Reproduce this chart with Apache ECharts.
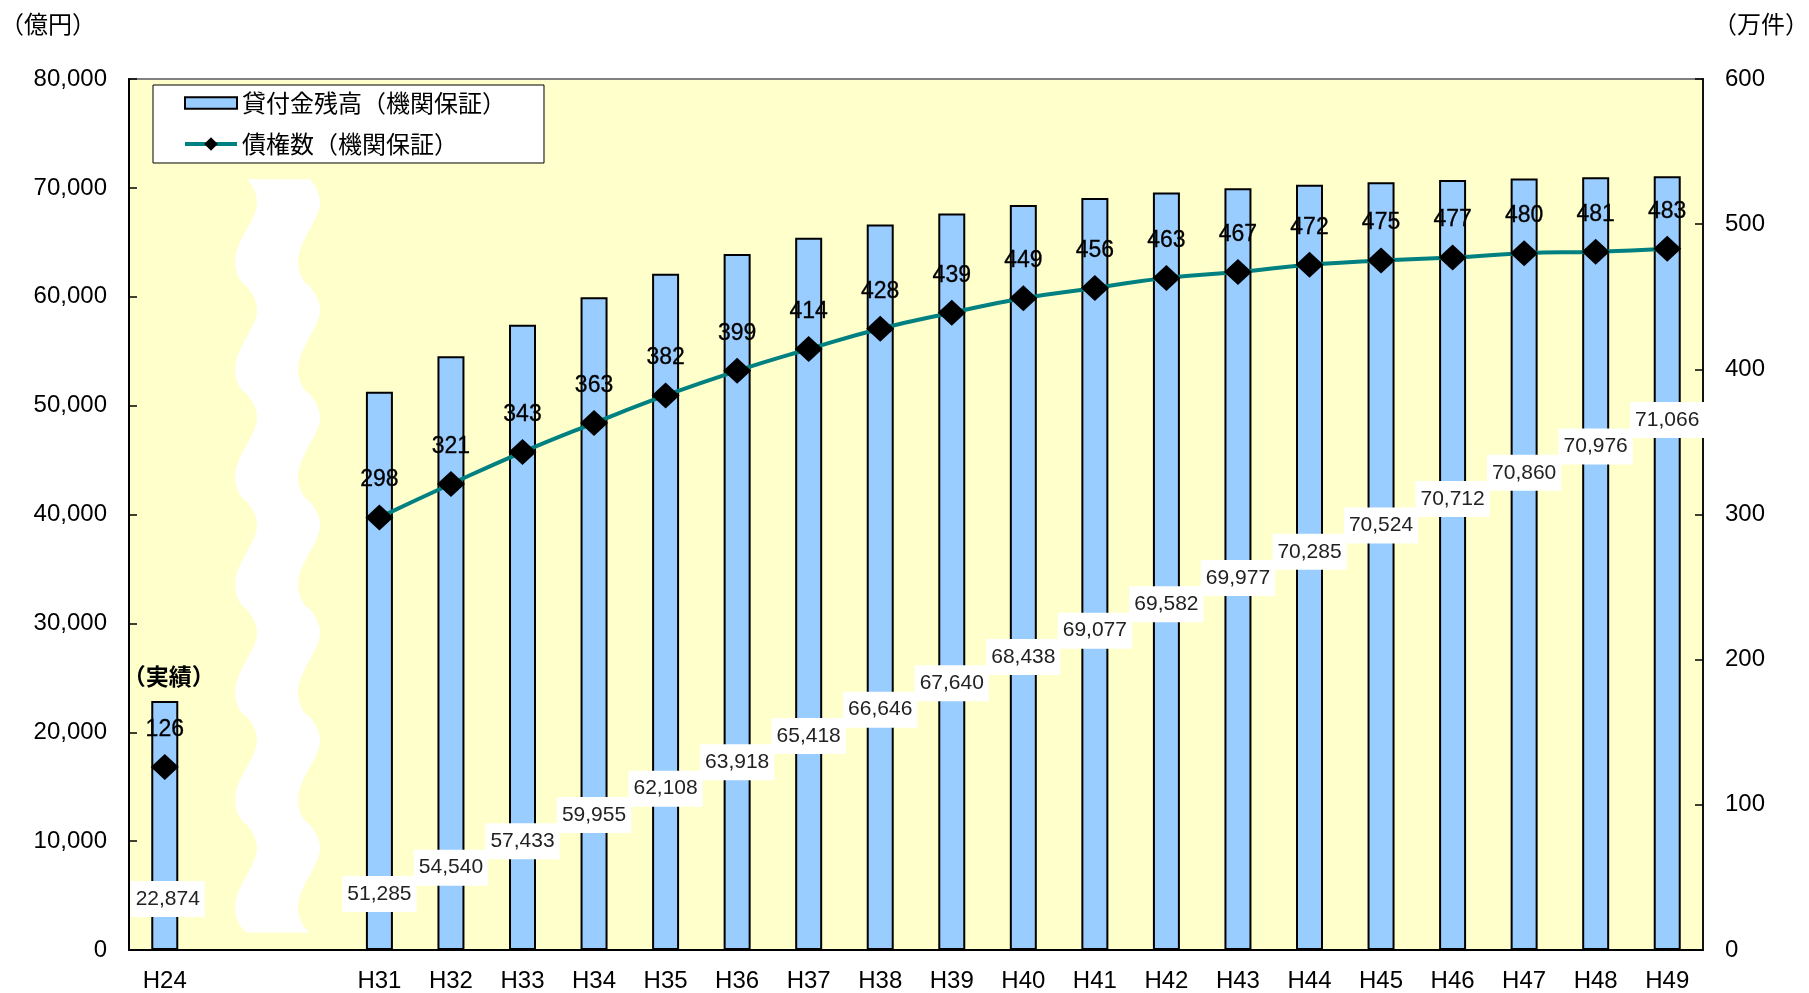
<!DOCTYPE html>
<html>
<head>
<meta charset="utf-8">
<script src="https://cdn.jsdelivr.net/npm/echarts@6/dist/echarts.min.js"></script>
<style>
html,body{margin:0;padding:0;background:#fff;}
#chart{width:1809px;height:993px;}
</style>
</head>
<body>
<div id="chart"></div>
<script>
// ---- data ----
const categories = ['H24', ' ', '  ', 'H31', 'H32', 'H33', 'H34', 'H35', 'H36', 'H37', 'H38', 'H39', 'H40', 'H41', 'H42', 'H43', 'H44', 'H45', 'H46', 'H47', 'H48', 'H49'];
const loanBalance = [22874, null, null, 51285, 54540, 57433, 59955, 62108, 63918, 65418, 66646, 67640, 68438, 69077, 69582, 69977, 70285, 70524, 70712, 70860, 70976, 71066];
const claimCount = [126, null, null, 298, 321, 343, 363, 382, 399, 414, 428, 439, 449, 456, 463, 467, 472, 475, 477, 480, 481, 483];
const seriesNames = ['貸付金残高（機関保証）', '債権数（機関保証）'];
const leftUnit = '（億円）';
const rightUnit = '（万件）';
const actualNote = '（実績）';

const LATIN = "'Liberation Sans', Arial, 'Noto Sans CJK JP', sans-serif";
const CJK = "'Noto Sans CJK JP', sans-serif";

// staircase placement of the balance labels (layout rule)
function labelLift(i) {
  return i === 0 ? 51 : 56 + 26.33 * (i - 3);
}

const barData = loanBalance.map((v, i) => v == null ? null : {
  value: v,
  label: { offset: [i === 0 ? 3 : 0, -labelLift(i)] }
});

function bez(p0, p1, p2, p3, t) {
  const u = 1 - t;
  return [
    u*u*u*p0[0] + 3*u*u*t*p1[0] + 3*u*t*t*p2[0] + t*t*t*p3[0],
    u*u*u*p0[1] + 3*u*u*t*p1[1] + 3*u*t*t*p2[1] + t*t*t*p3[1]
  ];
}
const waveSegs = [
  [[0,0],[5,6/108],[10,14/108],[10,24/108]],
  [[10,24/108],[10,40/108],[-12,62/108],[-12,82/108]],
  [[-12,82/108],[-12,96/108],[-6,104/108],[0,1]]
];
function waveEdge(x0, top, period, n, ampScale) {
  const pts = [];
  for (let k = 0; k < n; k++) {
    waveSegs.forEach(s => {
      for (let j = 0; j < 12; j++) {
        const p = bez(s[0], s[1], s[2], s[3], j / 12);
        pts.push([x0 + p[0] * ampScale, top + (k + p[1]) * period]);
      }
    });
  }
  pts.push([x0, top + n * period]);
  return pts;
}

const chart = echarts.init(document.getElementById('chart'));
chart.setOption({
  animation: false,
  backgroundColor: '#ffffff',
  textStyle: { fontFamily: LATIN },
  grid: {
    left: 129, right: 106, top: 79, bottom: 43,
    show: true, backgroundColor: '#FFFFCC', borderColor: '#808080', borderWidth: 2
  },
  legend: {
    data: [
      { name: seriesNames[0], icon: 'path://M0,0 L50,0 L50,11 L0,11 Z' },
      { name: seriesNames[1] }
    ],
    orient: 'vertical',
    left: 153, top: 85,
    backgroundColor: '#ffffff',
    borderColor: '#000', borderWidth: 1,
    padding: [6, 38, 7, 30],
    itemWidth: 52, itemHeight: 17, itemGap: 17,
    lineStyle: { width: 4 },
    textStyle: { fontFamily: CJK, fontSize: 24, color: '#000' }
  },
  xAxis: {
    type: 'category',
    data: categories,
    boundaryGap: true,
    axisLine: { lineStyle: { color: '#000', width: 2 } },
    axisTick: { inside: true, length: 8, interval: 0, lineStyle: { color: '#000', width: 1.5 } },
    axisLabel: { interval: 0, margin: 19, fontSize: 24, color: '#000', fontFamily: LATIN },
    splitLine: { show: false }
  },
  yAxis: [{
    type: 'value', min: 0, max: 80000, interval: 10000,
    axisLine: { show: true, lineStyle: { color: '#000', width: 2 } },
    axisTick: { show: true, inside: true, length: 8, lineStyle: { color: '#000', width: 1.5 } },
    axisLabel: { margin: 22, fontSize: 24, color: '#000', fontFamily: LATIN,
      formatter: v => v.toLocaleString('en-US') },
    splitLine: { show: false }
  }, {
    type: 'value', min: 0, max: 600, interval: 100, position: 'right',
    axisLine: { show: true, lineStyle: { color: '#111', width: 2 } },
    axisTick: { show: true, inside: true, length: 8, lineStyle: { color: '#000', width: 1.5 } },
    axisLabel: { margin: 22, fontSize: 24, color: '#000', fontFamily: LATIN },
    splitLine: { show: false }
  }],
  graphic: [
    { type: 'text', left: 0, top: 12, style: { text: leftUnit, fontFamily: CJK, fontSize: 24, fill: '#000' } },
    { type: 'text', left: 1713, top: 12, style: { text: rightUnit, fontFamily: CJK, fontSize: 24, fill: '#000' } }
  ],
  series: [{
    type: 'custom',
    name: 'wave',
    silent: true,
    z: 1,
    yAxisIndex: 0,
    clip: false,
    data: [[1, 0]],
    renderItem: function (params, api) {
      const c1 = api.coord([1, 0]);
      const c2 = api.coord([2, 0]);
      const w = c2[0] - c1[0];
      const top = api.coord([1, 70800])[1];
      const bottom = api.coord([1, 1600])[1];
      const n = 7;
      const period = (bottom - top) / n;
      const amp = period / 108;
      const xl = c1[0] + 0.15 * w;
      const xr = xl + 0.88 * w;
      const left = waveEdge(xl, top, period, n, amp);
      const right = waveEdge(xr, top, period, n, amp).reverse();
      return {
        type: 'polygon',
        shape: { points: left.concat(right) },
        style: { fill: '#ffffff' }
      };
    }
  }, {
    name: seriesNames[0],
    type: 'bar',
    yAxisIndex: 0,
    data: barData,
    barWidth: 27,
    itemStyle: { color: '#99CCFF', borderColor: '#000', borderWidth: 2 },
    label: {
      show: true,
      position: 'insideBottom',
      distance: 0,
      align: 'center',
      verticalAlign: 'middle',
      backgroundColor: '#ffffff',
      padding: [8, 5, 7, 5],
      fontSize: 21,
      color: '#222',
      fontFamily: LATIN,
      formatter: p => p.value.toLocaleString('en-US')
    },
    markPoint: {
      symbol: 'rect',
      symbolSize: 1,
      itemStyle: { color: 'rgba(0,0,0,0)' },
      label: {
        show: true, position: 'inside', offset: [4, -25],
        formatter: actualNote, fontFamily: CJK, fontWeight: 'bold', fontSize: 23, color: '#000'
      },
      data: [{ coord: [categories[0], loanBalance[0]] }]
    },
    z: 2
  }, {
    name: seriesNames[1],
    type: 'line',
    yAxisIndex: 1,
    data: claimCount,
    smooth: true,
    connectNulls: false,
    symbol: 'diamond',
    symbolSize: [28, 26],
    itemStyle: { color: '#000' },
    lineStyle: { color: '#008080', width: 4 },
    label: {
      show: true, position: 'top', distance: 13,
      fontSize: 23, color: '#000', fontFamily: LATIN,
      textBorderColor: '#000', textBorderWidth: 0.3
    },
    z: 4
  }]
});
</script>
</body>
</html>
